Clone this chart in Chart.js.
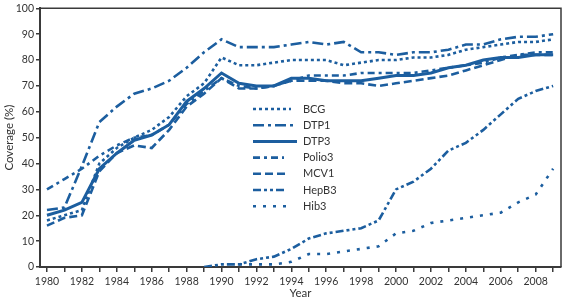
<!DOCTYPE html>
<html>
<head>
<meta charset="utf-8">
<script src="https://cdn.jsdelivr.net/npm/chart.js@4/dist/chart.umd.min.js"></script>
<style>
  html, body { margin: 0; padding: 0; background: #fff; }
  #wrap { width: 576px; height: 302px; }
</style>
</head>
<body>
<div id="wrap"><canvas id="coverageChart" width="576" height="302"></canvas></div>
<script>
// Vaccine coverage by year

const years = [1980, 1981, 1982, 1983, 1984, 1985, 1986, 1987, 1988, 1989,
               1990, 1991, 1992, 1993, 1994, 1995, 1996, 1997, 1998, 1999,
               2000, 2001, 2002, 2003, 2004, 2005, 2006, 2007, 2008, 2009];

const bcg    = [18, 20, 22, 40, 46, 50, 53, 58, 66, 71, 81, 78, 78, 79, 80, 80, 80, 78, 79, 80, 80, 81, 81, 82, 84, 85, 86, 87, 87, 88];
const dtp1   = [22, 23, 39, 56, 62, 67, 69, 72, 77, 83, 88, 85, 85, 85, 86, 87, 86, 87, 83, 83, 82, 83, 83, 84, 86, 86, 88, 89, 89, 90];
const dtp3   = [20, 22, 25, 38, 44, 49, 51, 55, 64, 69, 75, 71, 70, 70, 73, 73, 72, 72, 72, 73, 74, 74, 75, 77, 78, 80, 81, 81, 82, 82];
const polio3 = [30, 34, 38, 43, 47, 50, 51, 55, 63, 68, 73, 70, 69, 70, 72, 74, 74, 74, 75, 75, 75, 75, 76, 77, 78, 79, 81, 82, 83, 83];
const mcv1   = [16, 19, 20, 37, 44, 47, 46, 53, 62, 67, 73, 69, 69, 70, 72, 72, 72, 71, 71, 70, 71, 72, 73, 74, 76, 78, 80, 82, 82, 82];
const hepb3  = [null, null, null, null, null, null, null, null, null, 0, 1, 1, 3, 4, 7, 11, 13, 14, 15, 18, 30, 33, 38, 45, 48, 53, 59, 65, 68, 70];
const hib3   = [null, null, null, null, null, null, null, null, null, null, null, 1, 1, 1, 2, 5, 5, 6, 7, 8, 13, 14, 17, 18, 19, 20, 21, 25, 28, 38];

const seriesNames = ['BCG', 'DTP1', 'DTP3', 'Polio3', 'MCV1', 'HepB3', 'Hib3'];
const seriesData = [bcg, dtp1, dtp3, polio3, mcv1, hepb3, hib3];

const blue = '#1c5e9f';
const axisColor = '#3a3a3a';
const textColor = '#333333';

// dash pattern per series
const dashes = [
    [3, 3],
    [11, 4, 3, 4],
    [],
    [7, 4, 3, 4],
    [8, 4],
    [8, 3, 3, 3, 3, 3],
    [3, 7]
];
const widths = [2.6, 2.6, 3, 2.6, 2.6, 2.6, 2.6];
const sampleLen = [38, 44, 44, 31, 34, 31, 36];

const datasets = seriesNames.map((name, i) => ({
    label: name,
    data: years.map((y, j) => ({ x: y, y: seriesData[i][j] })),
    borderColor: blue,
    borderWidth: widths[i],
    borderDash: dashes[i],
    borderCapStyle: 'butt',
    pointRadius: 0,
    fill: false,
    tension: 0,
    spanGaps: false
}));

// Legend drawn inside the plot, plus the top/right frame
const framePlugin = {
    id: 'frameAndLegend',
    afterDatasetsDraw(chart) {
        const ctx = chart.ctx;
        const a = chart.chartArea;
        ctx.save();
        ctx.strokeStyle = axisColor;
        ctx.lineWidth = 1.5;
        ctx.beginPath();
        ctx.moveTo(a.left, a.top);
        ctx.lineTo(a.right, a.top);
        ctx.lineTo(a.right, a.bottom);
        ctx.stroke();

        ctx.font = '11px Lato, "Open Sans", sans-serif';
        ctx.fillStyle = textColor;
        ctx.textBaseline = 'middle';
        seriesNames.forEach((name, i) => {
            const y = 109 + i * 16.2;
            ctx.strokeStyle = blue;
            ctx.lineWidth = widths[i];
            ctx.lineCap = 'butt';
            ctx.setLineDash(dashes[i]);
            ctx.beginPath();
            ctx.moveTo(253, y);
            ctx.lineTo(253 + sampleLen[i], y);
            ctx.stroke();
            ctx.setLineDash([]);
            ctx.fillText(name, 303, y);
        });
        ctx.restore();
    }
};

new Chart(document.getElementById('coverageChart'), {
    type: 'line',
    data: { datasets: datasets },
    options: {
        responsive: false,
        animation: false,
        layout: { padding: { top: 7, right: 15, left: 0, bottom: 0 } },
        plugins: {
            legend: { display: false },
            tooltip: { enabled: false }
        },
        scales: {
            x: {
                type: 'linear',
                min: 1979.6,
                max: 2009.45,
                afterFit(scale) { scale.height = 35; },
                afterBuildTicks(scale) {
                    scale.ticks = years.map(v => ({ value: v }));
                },
                grid: {
                    drawOnChartArea: false,
                    drawTicks: true,
                    tickLength: 5,
                    color: axisColor,
                    lineWidth: 1.5
                },
                border: { color: axisColor, width: 2 },
                ticks: {
                    autoSkip: false,
                    maxRotation: 0,
                    padding: 3,
                    color: textColor,
                    font: { family: 'Lato, "Open Sans", sans-serif', size: 10.5 },
                    callback: v => (v % 2 === 0 ? String(v) : '')
                },
                title: {
                    display: true,
                    text: 'Year',
                    color: textColor,
                    font: { family: 'Lato, "Open Sans", sans-serif', size: 11.5 },
                    padding: { top: 0, bottom: 2 }
                }
            },
            y: {
                min: 0,
                max: 100,
                afterFit(scale) { scale.width = 40; },
                grid: {
                    drawOnChartArea: false,
                    drawTicks: true,
                    tickLength: 4,
                    color: axisColor,
                    lineWidth: 1.5
                },
                border: { color: axisColor, width: 2 },
                ticks: {
                    stepSize: 10,
                    padding: 2,
                    color: textColor,
                    font: { family: 'Lato, "Open Sans", sans-serif', size: 10.5 }
                },
                title: {
                    display: true,
                    text: 'Coverage (%)',
                    color: textColor,
                    font: { family: 'Lato, "Open Sans", sans-serif', size: 11.5 },
                    padding: { top: 2, bottom: 0 }
                }
            }
        }
    },
    plugins: [framePlugin]
});
</script>
</body>
</html>
